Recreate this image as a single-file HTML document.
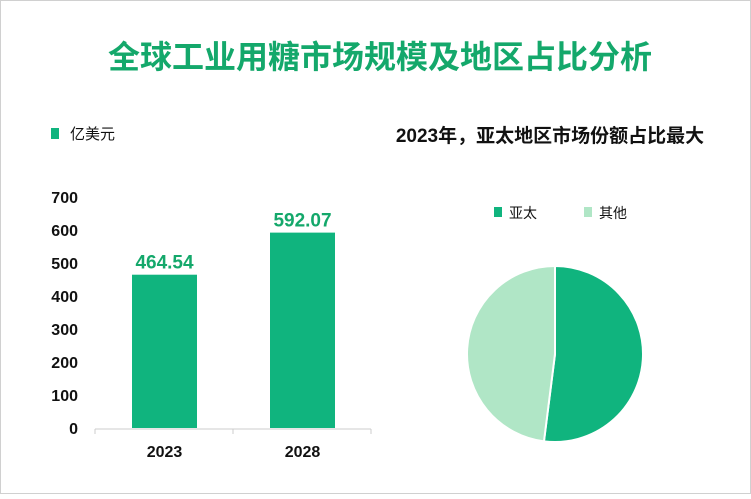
<!DOCTYPE html>
<html><head><meta charset="utf-8"><style>
body{margin:0;width:751px;height:494px;overflow:hidden;background:#fff;font-family:"Liberation Sans","Noto Sans CJK SC",sans-serif;}
svg text{font-family:"Liberation Sans","Noto Sans CJK SC",sans-serif;}
</style></head><body>
<svg width="751" height="494">
<rect x="0.5" y="0.5" width="750" height="493" fill="#fff" stroke="#d0d0d0"/>
<text x="380" y="68" text-anchor="middle" font-size="32" font-weight="bold" fill="#14a86b">全球工业用糖市场规模及地区占比分析</text>
<rect x="51" y="128" width="8" height="11" fill="#10b47e"/>
<text x="70" y="139" font-size="15" fill="#111">亿美元</text>
<text x="550" y="142" text-anchor="middle" font-size="19" font-weight="bold" fill="#111">2023年，亚太地区市场份额占比最大</text>
<g id="bars"></g>
<g id="pie"></g>
<rect x="494" y="207" width="8" height="10" fill="#10b47e"/>
<text x="509" y="218" font-size="14" fill="#111">亚太</text>
<rect x="584" y="207" width="8" height="10" fill="#b0e6c6"/>
<text x="599" y="218" font-size="14" fill="#111">其他</text>
</svg>
<script>
const categories=["2023","2028"];
const values=[464.54,592.07];
const yTicks=[0,100,200,300,400,500,600,700];
const pieLabels=["亚太","其他"];
const pieValues=[52,48];
const NS="http://www.w3.org/2000/svg";
function mk(t,a,p){const e=document.createElementNS(NS,t);for(const k in a)e.setAttribute(k,a[k]);p.appendChild(e);return e;}
const y=v=>428-v*231/700;
const bx=i=>132+i*138;
const bars=document.getElementById('bars');
yTicks.forEach(t=>{const e=mk('text',{x:78,y:y(t)+6,'text-anchor':'end','font-size':16,'font-weight':'bold',fill:'#111'},bars);e.textContent=t;

});
const ax=mk('line',{x1:95,x2:371,y1:429,y2:429,stroke:'#ccc'},bars);


[95,233,371].forEach(x=>{const t=mk('line',{x1:x,x2:x,y1:429,y2:434,stroke:'#ccc'},bars);

});
categories.forEach((c,i)=>{
const r=mk('rect',{x:bx(i),y:y(values[i]),width:65,height:428-y(values[i]),fill:'#10b47e'},bars);


const v=mk('text',{x:bx(i)+32.5,y:y(values[i])-6,'text-anchor':'middle','font-size':19,'font-weight':'bold',fill:'#14a86b'},bars);v.textContent=values[i].toFixed(2);


const l=mk('text',{x:bx(i)+32.5,y:457,'text-anchor':'middle','font-size':16,'font-weight':'bold',fill:'#111'},bars);l.textContent=c;


});
const pie=document.getElementById('pie');
const cx=555,cy=354,R=88,cols=['#10b47e','#b0e6c6'];
const tot=pieValues.reduce((a,b)=>a+b,0);let a0=0;
pieValues.forEach((v,i)=>{const a1=a0+v/tot*2*Math.PI;
const p=(a)=>[cx+R*Math.sin(a),cy-R*Math.cos(a)];
const s=p(a0),e=p(a1);
const sl=mk('path',{d:`M${cx},${cy}L${s[0]},${s[1]}A${R},${R} 0 ${a1-a0>Math.PI?1:0} 1 ${e[0]},${e[1]}Z`,fill:cols[i],stroke:'#fff','stroke-width':2},pie);


a0=a1;});
</script>
</body></html>
